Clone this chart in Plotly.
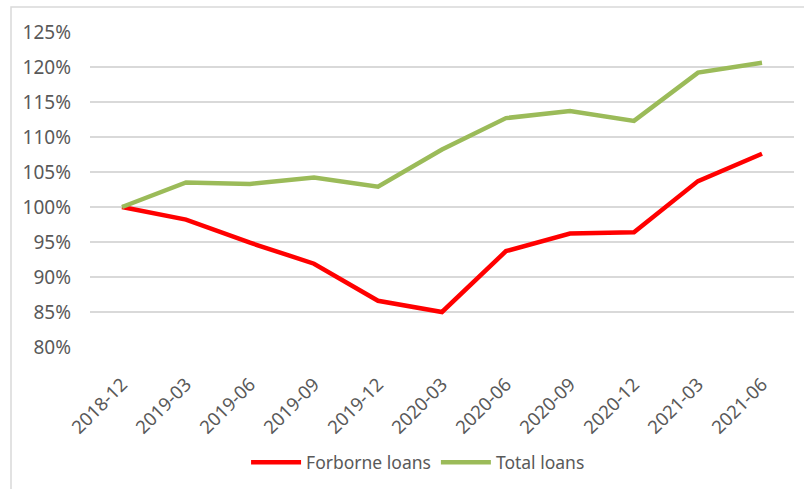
import plotly.graph_objects as go

# Quarterly index, 2018-12 = 100%
quarters = ["2018-12", "2019-03", "2019-06", "2019-09", "2019-12", "2020-03",
            "2020-06", "2020-09", "2020-12", "2021-03", "2021-06"]
forborne_loans = [100.0, 98.2, 94.9, 91.9, 86.6, 85.0, 93.7, 96.2, 96.4, 103.7, 107.6]
total_loans = [100.0, 103.5, 103.3, 104.2, 102.9, 108.2, 112.7, 113.7, 112.3, 119.2, 120.6]
y_ticks = [80, 85, 90, 95, 100, 105, 110, 115, 120, 125]
y_tick_text = [f"{v}%" for v in y_ticks]

FONT = "Noto Sans, Liberation Sans, Arial, sans-serif"
TEXT_GREY = "#595959"
GRID = "#D9D9D9"

fig = go.Figure()
fig.add_trace(go.Scatter(x=quarters, y=forborne_loans, mode="lines",
                         name="Forborne loans",
                         line=dict(color="#FF0000", width=4.5)))
fig.add_trace(go.Scatter(x=quarters, y=total_loans, mode="lines",
                         name="Total loans",
                         line=dict(color="#9BBB59", width=4.5)))

fig.update_layout(
    width=804, height=489,
    margin=dict(l=90, r=10, t=32, b=141),
    paper_bgcolor="white", plot_bgcolor="white",
    font=dict(family=FONT, size=18, color=TEXT_GREY),
    showlegend=True,
    legend=dict(orientation="h", x=0.466, xanchor="center", y=-0.305, yanchor="top",
                font=dict(size=17.5, color=TEXT_GREY), itemwidth=50,
                traceorder="normal"),
    xaxis=dict(type="category", range=[-0.5, 10.5], tickangle=-45,
               showgrid=False, showline=False, ticks="", zeroline=False,
               ticklabelstandoff=22,
               tickfont=dict(size=18.5, color=TEXT_GREY)),
    yaxis=dict(range=[80, 125], tickvals=y_ticks, ticktext=y_tick_text,
               showgrid=True, gridcolor=GRID, gridwidth=1.5, zeroline=False,
               showline=False, ticks="", ticklabelstandoff=18,
               tickfont=dict(size=19, color=TEXT_GREY)),
    shapes=[
        # chart frame: left and top edges
        dict(type="path", xref="paper", yref="paper",
             path="M -0.1122,-1 L -0.1122,1.0791 L 1.2,1.0791",
             line=dict(color=GRID, width=1.5)),
    ],
)

fig.write_html("out.html")
